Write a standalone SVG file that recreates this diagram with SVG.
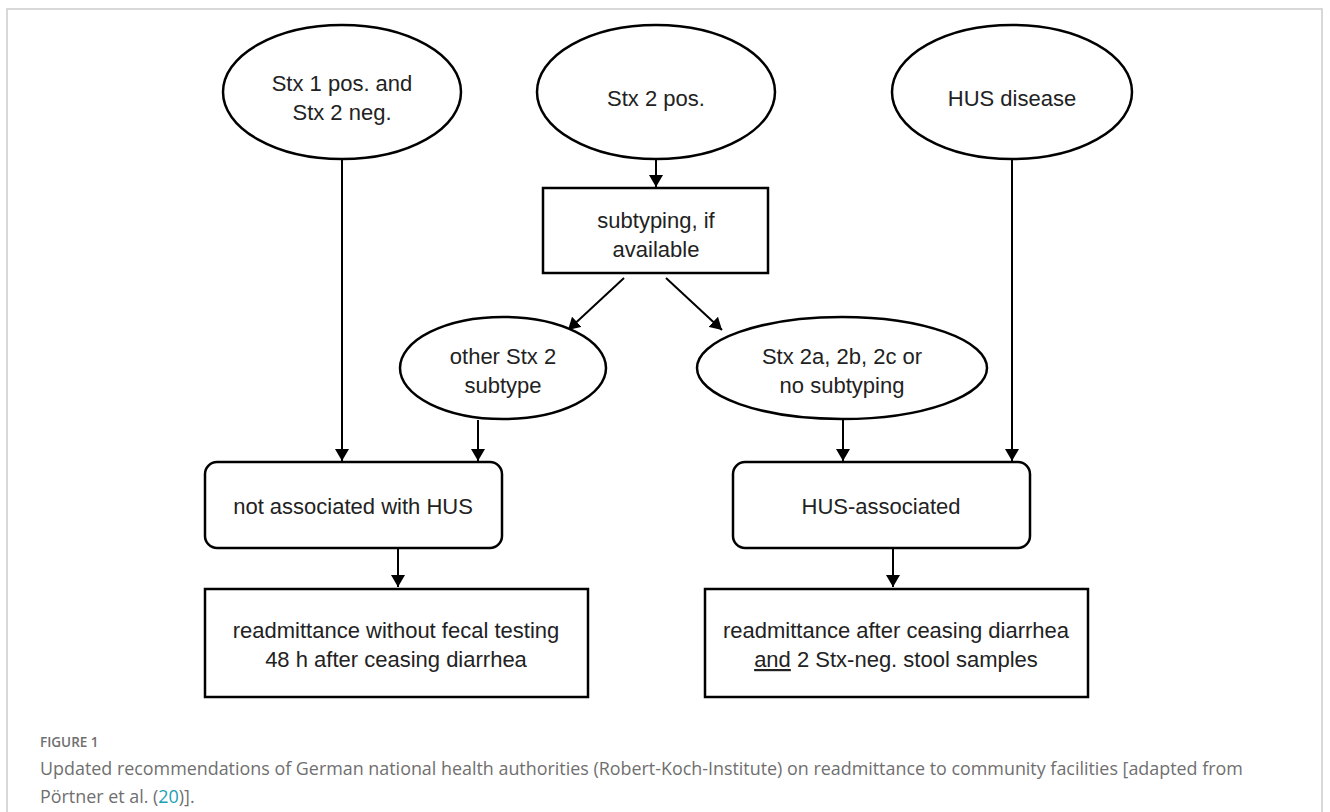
<svg xmlns="http://www.w3.org/2000/svg" width="1330" height="812" viewBox="0 0 1330 812">
<defs>
<marker id="ah" viewBox="0 0 12 14" refX="12" refY="7" markerWidth="12" markerHeight="14" markerUnits="userSpaceOnUse" orient="auto">
<path d="M0,0 L12,7 L0,14 Z" fill="#000"/>
</marker>
<style>
.shape{fill:#fff;stroke:#000;stroke-width:2.5}
.t{font-family:"Liberation Sans",Arial,sans-serif;font-size:22px;fill:#222;text-anchor:middle}
.c{stroke:#000;stroke-width:2;fill:none}
.cap{font-family:"Open Sans",sans-serif;fill:#6f6f6f}
</style>
</defs>
<rect x="7" y="9" width="1315" height="820" fill="#fff" stroke="#ccc" stroke-width="1.5"/>
<g id="connectors">
<line class="c" x1="342" y1="160" x2="342" y2="461" marker-end="url(#ah)"/>
<line class="c" x1="656" y1="160" x2="656" y2="187" marker-end="url(#ah)"/>
<line class="c" x1="624" y1="278" x2="568" y2="330" marker-end="url(#ah)"/>
<line class="c" x1="666" y1="278" x2="722" y2="330" marker-end="url(#ah)"/>
<line class="c" x1="478" y1="420" x2="478" y2="461" marker-end="url(#ah)"/>
<line class="c" x1="843" y1="420" x2="843" y2="461" marker-end="url(#ah)"/>
<line class="c" x1="1012" y1="160" x2="1012" y2="461" marker-end="url(#ah)"/>
<line class="c" x1="398" y1="548" x2="398" y2="587" marker-end="url(#ah)"/>
<line class="c" x1="893" y1="548" x2="893" y2="587" marker-end="url(#ah)"/>
</g>
<g id="n1"><ellipse class="shape" cx="342" cy="92" rx="119" ry="67"/><text class="t" x="342" y="91">Stx 1 pos. and</text><text class="t" x="342" y="120">Stx 2 neg.</text></g>
<g id="n2"><ellipse class="shape" cx="656" cy="92" rx="119" ry="67"/><text class="t" x="656" y="106">Stx 2 pos.</text></g>
<g id="n3"><ellipse class="shape" cx="1012" cy="92" rx="120" ry="67"/><text class="t" x="1012" y="106">HUS disease</text></g>
<g id="n4"><rect class="shape" x="543" y="188" width="225" height="85"/><text class="t" x="656" y="228">subtyping, if</text><text class="t" x="656" y="257">available</text></g>
<g id="n5"><ellipse class="shape" cx="503" cy="368" rx="103" ry="51"/><text class="t" x="503" y="364">other Stx 2</text><text class="t" x="503" y="393">subtype</text></g>
<g id="n6"><ellipse class="shape" cx="842" cy="368" rx="145" ry="51"/><text class="t" x="842" y="364">Stx 2a, 2b, 2c or</text><text class="t" x="842" y="393">no subtyping</text></g>
<g id="n7"><rect class="shape" x="205" y="462" width="297" height="86" rx="12"/><text class="t" x="353" y="514">not associated with HUS</text></g>
<g id="n8"><rect class="shape" x="733" y="462" width="297" height="86" rx="12"/><text class="t" x="881" y="514">HUS-associated</text></g>
<g id="n9"><rect class="shape" x="205" y="589" width="383" height="108"/><text class="t" x="396" y="638">readmittance without fecal testing</text><text class="t" x="396" y="667">48 h after ceasing diarrhea</text></g>
<g id="n10"><rect class="shape" x="705" y="589" width="383" height="108"/><text class="t" x="896" y="638">readmittance after ceasing diarrhea</text><text class="t" x="896" y="667"><tspan text-decoration="underline">and</tspan> 2 Stx-neg. stool samples</text></g>
<g id="caption">
<text class="cap" x="40" y="747" font-size="13.5" font-weight="600">FIGURE 1</text>
<text class="cap" x="40" y="775" font-size="17.9">Updated recommendations of German national health authorities (Robert-Koch-Institute) on readmittance to community facilities [adapted from</text>
<text class="cap" x="40" y="803" font-size="17.9">Pörtner et al. (<tspan fill="#1a9fb5">20</tspan>)].</text>
</g>
</svg>
